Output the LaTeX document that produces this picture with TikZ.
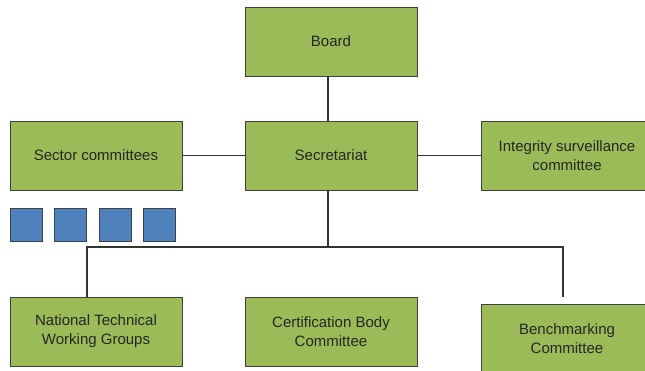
\documentclass[tikz,border=0pt]{standalone}
\usepackage{fontspec}
\setmainfont{Liberation Sans}
\begin{document}
\begin{tikzpicture}[x=1pt,y=-1pt,
  gbox/.style={draw=black!75,line width=0.8pt,fill=boxgreen,minimum width=172pt,minimum height=69pt,
    align=center,font=\fontsize{15pt}{19pt}\selectfont,text=black!85,inner sep=0pt},
  bsq/.style={draw=black!75,line width=0.8pt,fill=sqblue,minimum width=32pt,minimum height=33pt,inner sep=0pt},
  conn/.style={draw=black!80,line width=1.4pt}]
\definecolor{boxgreen}{HTML}{9BBB59}
\definecolor{sqblue}{HTML}{4F81BD}
\useasboundingbox (0,0) rectangle (645,371);
\clip (0,0) rectangle (645,371);
\node[gbox] (board) at (331,41.5) {Board};
\node[gbox] (sec) at (331,155.5) {Secretariat};
\node[gbox] (sector) at (96,155.5) {Sector committees};
\node[gbox] (integ) at (567,155.5) {Integrity surveillance\\committee};
\node[gbox] (ntwg) at (96,331.5) {National Technical\\Working Groups};
\node[gbox] (cert) at (331,331.5) {Certification Body\\Committee};
\node[gbox,minimum height=69pt] (bench) at (567,338.5) {Benchmarking\\Committee};
\node[bsq] (s1) at (26,224.5) {};
\node[bsq] (s2) at (70,224.5) {};
\node[bsq] (s3) at (115,224.5) {};
\node[bsq] (s4) at (159,224.5) {};
\coordinate (bus) at (328,247);
\coordinate (rdrop) at (563,297);
\draw[conn] (board.south -| bus) -- (sec.north -| bus);
\draw[conn] (sector.east) -- (sec.west);
\draw[conn] (sec.east) -- (integ.west);
\draw[conn] (sec.south -| bus) -- (bus);
\draw[conn] (ntwg.north -| 87,0) |- (bus) -| (rdrop);
\end{tikzpicture}
\end{document}
